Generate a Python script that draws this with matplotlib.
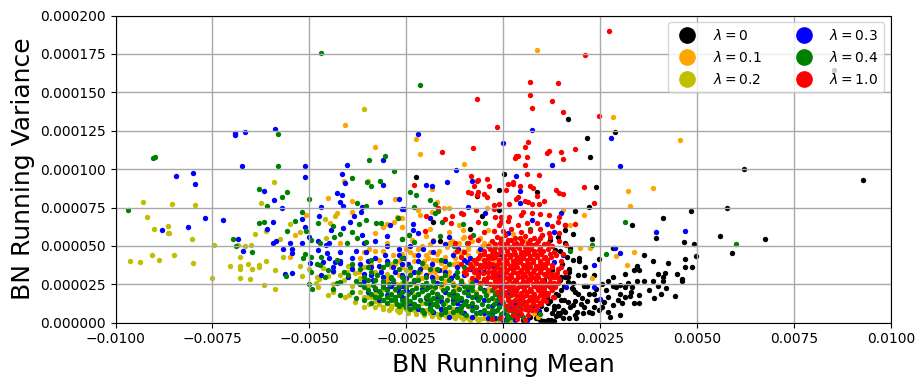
import numpy as np
import matplotlib
matplotlib.use("Agg")
import matplotlib.pyplot as plt
from matplotlib.lines import Line2D

# values: x in units of 1e-4, y in units of 1e-6
black_x = [16.8,21.7,28.9,22.5,-22.4,.3,-1,8.8,23.8,-6.7,22,18.6,48.3,41.1,33.3,-1.2,-5.4,-18,-8.7,15.8,15.8,17.9,39.3,46.5,49.1,23,-16.4,28.2,36.2,24.6,49.6,47,38.5,42.6,47,48.8,34.4,33.8,34.9,31.5,28.2,19.4,20.9,23.5,39.8,41.6,41.3,41.3,44.7,46,46.2,36.2,38.5,34.4,32.3,30.2,31.3,29.2,39.8,42.1,33.1,26.6,28.2,37.7,40.8,44.2,38.8,32.6,31.5,29.5,35.1,33.8,30.5,28.4,26.9,25.9,27.1,20.7,21.5,23.3,22.2,19.4,18.1,16.8,18.6,17.7,15,13,11.2,13.2,16.8,18.1,15.5,14.7,13.6,15.5,19,20.7,22.8,22,9.5,10.4,7.8,7.4,10.4,11.2,10.4,13.4,12.1,17.3,16.4,14.7,92.9,62,57.6,55.8,67.4,58.9,85.2,14.6,16,12.5,15.2,17,19.5,21,13.5,15.6,18,20.2,24,11.5,13,14.5,16,17.2,18.8,20,12.2,14.2,15.7,11,9,10.2,8.5,13,12,16.6,19.6,25.5,27.5,30,24.8,9.8,11.5]
black_y = [132.5,120.1,124,107.7,94.7,96.6,86.2,84.9,88.2,82.3,75.1,72.5,72.5,68,63.4,73.2,69.3,65.4,60.8,63.4,60.2,57.6,55,52.3,51,54.3,53.2,48.4,43.9,41.3,43.2,41.3,40,38.7,36.1,36.1,36.7,34.1,34.1,31.5,29.5,30.8,30.8,30.8,31.5,32.1,29.5,26.9,31.5,28.2,26.9,26.9,26.9,26.9,25.6,24.3,23,23,23.7,22.4,23,21,23.7,21,18.5,17.2,15.9,17.2,16.5,14.6,12.6,12.6,12.6,11.3,6.7,13.2,17,23.7,23.7,18.5,19,19,25.6,26.7,20.2,22.4,21,17,16.5,11,13.7,11.5,8.2,6,4.3,2.8,7.2,10.4,6,7.2,1.7,1.3,11.5,8.2,27.8,32.1,36.5,47.4,53.9,48.4,43,47,92.7,99.9,74.5,56.2,54.3,45.2,164.6,28,30,34,38,33,40,36,19,24,22,16,15,13,9,5,7,10,3,12,2,6,15,18,22,1.2,3,1,25,30,42,10,4,5,8,11,2,5,2]
black_more = [(3,3),(5,2),(7,4),(8.5,6),(6,1.5),(9.5,13),(11,9),(12.5,6),(14,11),(10,19),(12,14),(14,18),(13,25),(15,30),(17,35),(18,41),(16,52),(14,56),(18.5,14),(21.5,14),(23.5,10),(15,15),(17,3),(18.5,5),(20.5,6),(24,22),(25.5,25),(27,27),(30,19),(33,20),(35,18)]

orange_x = [-40.7,-33,-41,-45.3,-28,-39.1,-50.8,-42.8,-39.1,-26.8,-53.6,-55.1,-44.6,-31.1,-29.9,-28.3,-26.2,-33,-42,-36,-33,-37.1,-27.3,8.8,28.4,45.7,-22.4,-21.4,-10,-18.5,32.3,38.5,32.6,20.7,15.5,-17.2,-14.1,-15.2,-22.1,-21.4,-18.5,-26.2,-26.2,-18.8,-11.5,-10.5,-13.9,-20,17.1,19.9,22.5,33.8,29.2,31.8,22.8,-4.3,-4,-13.3,-18,-25,-23,-21,-19,-17,-15,-13,-11,-9,-7,-5,-3,-1,1,3,5,7,-24,-22,-20,-16,-14,-12,-10,-8,-6,-4,-2,0,2,4,-26,-28,-30,-24,-20,-16,-12,-8,-4,-1,3,-18,-14,-10,-6,6,8,10,-30,-32,-35,-27,-23]
orange_y = [128.6,114.2,92,81,80.4,79,70,71.2,71.9,68,56.9,42.6,64.7,62.1,64,65.4,62.1,58.2,51.7,45.8,46.5,33.2,69,177.4,133.8,118.8,119.4,109.7,103.2,86.9,85.6,87.5,75.8,70,73.2,78.4,74.5,74.5,73.2,70,71.9,68,62.1,60.8,63.4,60.2,58.9,56.2,63.4,48.4,48.4,45.8,43.2,37.4,28.9,74.5,60.4,53,40.8,48,44,50,46,41,43,38,45,49,41,52,47,44,40,36,33,29,35,29,36,34,30,37,33,28,35,30,37,28,31,24,43,38,52,25,24,23,24,21,20,15,12,54,52,56,55,20,18,15,30,41,36,40,28]
orange_more = [(-24.5,38),(-21.5,33),(-19.5,42),(-16.5,47),(-15,36),(-12.5,42),(-10.5,55),(-9,44),(-8,39),(-6.5,47),(-5,36),(-3.5,52),(-2,41),(-.5,33),(2,26),(-27,31),(-25,27),(-22.5,24),(-20.5,40),(-17.5,33),(-13.5,30),(-11,28),(-9.5,34),(-7,31),(-5.5,26),(-3,25),(-1.5,22),(.5,18),(2.5,14),(5,10),(-18,28),(-15.5,25),(-12.5,21),(-9.5,22),(-7,20),(-4.5,18),(-2,15),(-29,36),(-31,47),(-26,45),(-23.5,54),(-19,51),(-14.5,49),(-11.5,52),(-8,53),(-28,21),(-33,28),(-34,38),(8,6),(6.5,12),
 (-23,40),(-20,37),(-18,35),(-16,39),(-14,33),(-12,39),(-10.5,47),(-7.5,36),(-6,42),(-4,40),(-3,33),(-1,37),(.5,30),(-26,36),(-24,32),(-21,29),(-19,33),(-17,30),(-15,27),(-13,26),(-10.5,25),(-8.5,27),(-6,24),(-4,22),(-2,19),(-27.5,25),(-25.5,23),(-30,27),(-31.5,35),(-28.5,44),(-24,46),(-22,48),(-20,44),(-17,45),(-12.5,46),(-9,48),(-5.5,50),(-2.5,47),(-.5,55),(2.5,58),(5.5,53),(-37,42),(-39,37),(-34.5,48),(3,20),(4.5,16),(7,9),(9,4)]

olive_x = [-96.2,-93.6,-90.7,-88.9,-85,-79.9,-93,-85.3,-79.6,-92,-90,-86.4,-86.4,-86.1,-80.2,-74.7,-75,-59,-62.4,-61.3,-63.9,-57.5,-54.9,-52.3,-68.3,-66.7,-65,-68,-61.1,-70.4,-67.8,-68,-65.7,-64.7,-62.9,-62.9,-58.8,-68,-65.2,-61.6,-58.8,-56.7,-52.3,-52,-35.8,-34.8,-45.9,-43.5,-45.6,-48.4,-47.4,-46.4,-45.1,-47.7,-45.3,-43.8,-40.8,-39.9,-38.2,-36,-31.9,-31,-28.9,-27,-25.3,-40.4,-38.2,-35.2]
olive_y = [40,39.3,43.9,40.6,43.9,38.7,78.4,77.1,76.4,68.6,60.8,62.8,58.2,58.2,54.3,50.4,28.9,91.4,77.7,59.5,57.6,54.3,64,58.9,50.4,49.7,50.4,42.6,40,36.7,36.7,34.7,38,34.7,37.4,36,34.1,28.9,28.2,24.3,21.7,42.6,36.7,30.2,139,92,67.3,69.3,55,25.6,28.2,35.4,30.6,23,17.8,20.2,17,18,13.7,10,14.8,10.4,9.3,7.2,13.7,32.8,32.1,16.5]
olive_more = [(-34,17),(-33,14),(-32,12),(-30,13),(-29,11),(-28,12),(-26,10),(-25,9),(-24,10),(-23,8),(-22,9),(-21,7),(-20,8),(-19,6),(-18,7),(-17,5.5),(-16,6.5),(-15,5),(-14,6),(-13,4.5),(-12,5),(-11,3.5),(-10,4),(-9,3),(-8,3.5),(-7,3),(-6,2.5),(-5,3),(-4,2),(-3,2.5),(-2,1.5),(-1,2),(0,1.5),(1,2.5),(-37,20),(-35,24),(-33,19),(-31,22),(-29,17),(-27,19),(-25,15),(-23,18),(-21,13),(-19,15),(-17,11),(-15,13),(-13,9),(-11,8),(-41,28),(-39,24),(-37,29),(-44,25),(-30,32),(-26,26),(-22,30),(-18,22),(-14,18),
 (-36,17),(-34.5,12),(-33,10.5),(-31,9),(-29.5,8.5),(-27.5,8),(-26.5,7.5),(-24.5,6.5),(-22.5,5.5),(-20.5,5),(-18.5,4.5),(-16.5,4),(-14.5,3.5),(-12.5,3),(-10.5,2.5),(-8.5,2),(-6.5,1.8),(2,1.5),(3,2),(-42,31),(-48,30),(-50,35),(-44,33),(-40,37),(-36,36),(-33,33),(-29,38),(-25,34),(-21,36)]

blue_x = [-69.3,-69.3,-66.7,-58.8,-67.3,-51,-84.5,-79.9,-79.4,-51,-61.6,-59,-57,-77,-72.2,-87.9,-81.2,-68.3,-67,-61,-59.5,-52,-59.3,-58.5,-54.9,-52,-50.2,-51,-56.7,-54.4,-54.6,-56.2,-54.6,-46.9,-47.4,-40.2,-41.5,-40.7,-42.8,-41.7,-42,-41.2,-38.6,-39.4,-44.3,-41.2,-36.3,-36.6,-31.7,-31.1,-31.1,-27,-26,-29.1,-29.9,-36.3,-47.9,-45.6,-45.5,-47.9,-43.8,-49.8,-46.5,-43.3,-42,-22.1,7.3,0,27.7,30,12.7,-12.2,3.4,-8,-20,-18.3,-14.6,4.2,-25.7,-9,-4.6,-19,-23.4,-23.4,14.8,4.4,7.3,11.4,13,39.5,47,28.7,30.2,23.5,23.3,25,16.3,9.1,1.1,15.5,13.2,-13.9,-18,-21.9,-11.6,-20.6,-25.7,-9.4,-4.2,-6,-0.8]
blue_y = [123.3,122,124,126,101.9,101.9,95.3,97.3,90.1,94.7,85.6,79.7,74.5,68,66.7,60.2,62.1,54.3,46.5,60.8,65.4,67.3,51.7,53,51.7,51.7,56,62.1,47.8,47.8,45.2,31.5,32.1,75.1,69.3,102.5,96.6,90.8,84.3,83,78.4,75.8,69.3,65.4,60.2,61.5,75.1,71.9,78.4,105.8,89.5,80.4,73.8,63.4,56.2,56.9,53,50.4,45.2,47.1,33.7,38.7,39.5,39.5,38.7,122.7,125.3,116.8,120.1,101.9,102.5,99.2,95.3,92,89.5,88.8,91.4,85.6,73.8,75.1,71.2,68,64,60.2,71.2,77.7,66.7,64,58.9,58.9,59.5,48.4,45.2,37.4,23,15.2,23.5,7.4,58.2,43.9,39.3,55.6,53.4,58.2,47.8,47.8,41.9,39.5,38.2,36.5,45]
blue_more = [(-39,42),(-37,38),(-35.5,46),(-34,36),(-33,42),(-31.5,33),(-30,40),(-28.5,36),(-27,44),(-26,31),(-24.5,38),(-23,27),(-21.5,35),(-20,31),(-18.5,38),(-17,26),(-15,33),(-13.5,29),(-12,36),(-10,31),(-8.5,42),(-7,28),(-5,33),(-3,43),(-1,30),(-38,47),(-36,32),(-33.5,28),(-31,25),(-29,29),(-27,23),(-25,21),(-23,17),(-21,22),(-19,12),(-17,19),(-15,8),(-13,15),(-11,11),(-9,18),(-7,10),(-5,15),(-3,6),(-1,12),(1,4),(-28,15),(-26,17),(-24,13),(-22,9),(-20,16),(-18,7),(-16,14),(-14,4),(-12,9),(-10,6),(-8,4),(-6,7),(-4,3),(-2,3),(0,6),(2,9),(4,5),(6,2),(-30,18),(-33,22),(-35,20),(-37,25),(-40,30),(-44,36),(-47,31),(-42,46),(-45,52),(-30,50),(-27,48),(-24,50),(-22,44),(-18,46),(-15,51),(-13,44),(-10,41),(-6,48),(-32,15),(-29,24),
 (-35,40),(-32,37),(-30.5,44),(-28,33),(-26,38),(-25,29),(-23,33),(-22,40),(-20,26),(-18.5,30),(-16.5,34),(-15,40),(-12.5,31),(-11,26),(-8.5,35),(-6.5,33),(-4.5,26),(-2.5,36),(-.5,23),(1,20),(3,13),(-36,27),(-34,31),(-31,30),(-28.5,26),(-26,24),(-24,20),(-22,19),(-19.5,23),(-17,16),(-15,20),(-13,19),(-11,15),(-9,22),(-7,17),(-5,21),(-3,11),(-1,17),(-42,40),(-45,42),(-39,35),(-30,22),(-27,20),(-25,11),(-23,12),(-21,8),(-16,9),(-12,13),(-8,11),(-5,6),(0,2),(3,2),(-36,52),(-33,53)]

green_x = [-47,-58,-90.4,-89.9,-58,-96.7,-63,-57,-55.7,-61,-50.2,-62.9,-61.6,-53.8,-51.8,-55.7,-50.8,-69.6,-69,-64.7,-47.7,-34.5,-30.6,-28.3,-38.9,-35.2,-34.2,-31.7,-24,-37.6,-35.3,-35.3,-32.9,-31.4,-37.1,-43.8,-38.9,-42.2,-43.6,-49.5,-47.3,-40.2,-37.6,-35.5,-26,-24.3,-27.2,-51,-49.5,-51.7,-46.9,-48.1,-47.2,-45.3,-49.5,-49.2,-50,-55.9,-42,-42.9,-21.4,-22.4,-19,-22.9,-17.5,-16.7,-17.7,-15.7,-10.5,-4.8,-7.9,-16.4,-22.9,-24.4,-26,31.5,26.4,17.3,22.8,7,9.6,12.1,-12.8,-9.4,59.9]
green_y = [175.5,122.7,107,107.7,102,73.2,87,81.7,85,75.8,80.4,64.7,65.4,66,71.9,59.5,59.5,54.3,49.7,45.8,64.7,105.8,108.4,98.6,94,91.4,88.8,92,85,77.7,75.8,66.7,64.7,64.7,64,62.8,58.9,57.6,55.6,53.9,51.7,51.7,55,52.3,54.3,56.9,68,45,43,42,43,38.2,37.6,34.3,33,21.7,25,30.2,26.7,25.6,154.6,83,79.7,75.1,77.1,72.5,71.2,65.4,64,64.7,56.9,56.2,52.3,56.9,54.3,65.4,44.5,46.5,50.4,60.8,5.4,23.5,50,51.7,51]
green_more = [(-20.5,6),(-16,5.5),(-13,7),(-9.5,5),(-6,6.5),(-3,4.5),(-.5,5.5),(2,4),(-24,9),(-21,8),(-18.5,7.5),(-15,9),(-12,8),(-8,8.5),(-5,8),(-2,7.5),(.5,8),(2.5,7),(-27,11),(-25,10.5),(-22,11),(-19,10),(-17,11),(-14,10.5),(-11,10),(-9,11),(-7,10),(-4,11),(-1,10),(1,11),(-30,13),(-27.5,12.5),(-25,13),(-23,12),(-20,13),(-18,12.5),(-15.5,12),(-13,13),(-10,12),(-8,13),(-5.5,12.5),(-2.5,12),(0,13),(-31,15),(-29,14.5),(-26,15),(-24,14),(-21.5,15),(-19,14.5),(-17,14),(-14.5,15),(-12,14.5),(-9.5,14),(-6.5,15),(-4,14.5),(-1.5,15),(1.5,14),(-33,17),(-30,16.5),(-28,17),(-25,16),(-23,17),(-20,16.5),(-18,16),(-16,17),(-13,16.5),(-11,16),(-8,17),(-6,16.5),(-3,16),(-.5,17),(-34,19),(-31.5,18.5),(-29,19),(-27,18),(-24.5,19),(-22,18.5),(-19.5,18),(-17,19),(-14,18.5),(-12,18),(-9,19),(-7,18.5),(-4.5,18),(-2,19),(-35,21),(-32,20.5),(-30,21),(-26,20),(-23.5,21),(-21,20.5),(-18.5,20),(-15.5,21),(-13,20.5),(-10,20),(-8,21),(-5,20.5),(-36,23),(-33,22.5),(-31,23),(-28,22),(-25,23),(-22.5,22.5),(-20,22),(-17.5,23),(-14.5,22.5),(-11.5,22),(-9,23),(-6,22.5),(-37,25),(-33.5,24.5),(-29.5,25),(-27,24),(-24,25),(-21,24.5),(-19,24),(-16,25),(-13,24.5),(-10,24),(-38,27),(-35,28),(-31,27),(-28.5,28),(-25.5,27),(-22,28),(-18,27),(-14,28),(-11,27),(-40,31),(-36,30),(-32.5,31),(-29,30),(-24,31),(-20,30),(-15,31),(-41,33),(-37,35),(-34,33),(-27,35),(-22,33),(-17,35),(-12,33),(-39,38),(-34,41),(-30,38),(-26,42),(-21,39),(-16,41),(-43,41),(-46,30),(-44,22),(-42,18),(-39,20),(-38,16),(-36,15),(-34,13),
 (-31,36),(-28,40),(-24,36),(-19,35),(-14,38),(-10,36),(-35,36),(-33,28),(-26,30),(-23,28),(-20,26),(-16,29),(-12,30),(-8,26),(-5,28),(-2,24),(0,20),(2,18),(-3,8),(-1,3),(1,2),(3,6),(4,11),(5,4),(-7,6),(-11,7),(-15,7),(-19,9),(-23,10),(-26,12),(-28,15),(-32,17),(-4,6),(-1.5,8),(.5,11),(1,5),(-8,24),(-6,26),(-3,21),(-1,19)]

red_x = [27.4,21.2,6.8,14.2,6.8,-6.7,12.7,7.3,15.5,24.8,-1.5,6.5,5.7,-7.7,-15.9,11.7,11.4,15,18.4,15.5,3.2,3.7,3,6.2,5.5,6,9.3,-8.2,-4.1,-6.4,-6.7,-7.5,-3.6,-22.9,1.1,2.4,2.6,4.2,.6,7,7.8,13.5,14.5,15.5,20.7,-9.2,-8.2,-6.4,-4.9,-4.1,-6.7,3.9,3.4,5.7,6.5,8.8,10.6,23.5,7.5,9.1,1.6,-1.2,-2.3,-2.5,-16.7,-11,-10.3,-6.9,-13.1,-20,-14.9,-6.4,-2,-.7,1.6,1.1,-1.2,-.7,5.2,4.7,3.7,6,7.5,9.6,11.7,14.5,14.2,12.7,16,18.4,-13.6,-20.3,8.8,11.7,14.5,10.1,16.2,15,13.8,13.8,13,3.5]
red_y = [189.8,174.2,156.6,156,148,145.5,144.2,139.6,137,134.4,127.3,117.5,114.2,113.6,111,111.6,110.3,111,113,106.4,108.4,108.4,107,107.7,102.5,96.6,96,95.3,93.4,92.7,92,88.8,88.8,89.5,90.1,91.4,90.1,88.8,86.2,88.8,87.5,86.2,84.3,83.6,88.2,84.9,84.3,84.9,83.6,81.7,83,81.7,80.4,79,78.4,82.3,79,77.7,77.1,77.1,77.1,77.1,76.4,73.8,74.5,71.2,70.6,73.4,69.3,69.3,67.3,65.4,68.6,68.6,68.6,66,63.4,65.4,71.9,70,63.4,64.7,71.2,70.6,70,68.6,65.4,62.8,63.4,64,64.7,59.5,64.7,58.2,58.2,56.9,50.4,36.5,32.1,30,17,4]
red_more = [(-1.5,56),(.5,57),(3,55),(5.5,56.5),(8,55),(10,57),(-3,53),(-.8,52),(1.2,54),(3.3,52),(4.8,53.5),(6.5,52),(9,53),(11.5,52),(-4,50),(-2,49),(0,51),(1.8,49.5),(3.5,50),(5.5,49),(7.3,50.5),(9.5,49.5),(12.5,50),(-5,47),(-2.5,46.5),(-.8,48),(1,46.5),(2.8,47),(4.5,46),(6.2,47.5),(8,46.5),(10.3,47),(13,46),(-6,44),(-4,43.5),(-1.7,45),(.3,43.5),(2,44),(3.6,43),(5.5,44.5),(7,43.5),(8.8,44),(10.8,43),(13.5,44),(-7.5,41),(-5,40.5),(-3,42),(-1,40.5),(.8,41),(2.6,40),(4.3,41.5),(6,40.5),(7.8,41),(9.5,40),(11.3,41),(-8.5,38),(-6,37.5),(-3.8,39),(-1.8,37.5),(0,38),(1.7,37),(3.4,38.5),(5,37.5),(6.8,38),(8.5,37),(10.2,38),(12.5,37.5),(-9,35),(-7,34.5),(-4.8,36),(-2.5,34.5),(-.6,35),(1,34),(2.8,35.5),(4.5,34.5),(6.2,35),(8,34),(9.8,35),(11.5,34.5),(14,35),(-9.5,32),(-6.5,31.5),(-4,33),(-2,31.5),(-.2,32),(1.8,31),(3.5,32.5),(5.2,31.5),(7,32),(8.8,31),(10.5,32),(12.6,31.5),(-8,29),(-5,28.5),(-2.8,30),(-.8,28.5),(1.2,29),(3,28),(4.8,29.5),(6.5,28.5),(8.2,29),(10,28),(12,29),(14.3,28.5),(-6,26),(-3.5,25.5),(-1.2,27),(.6,25.5),(2.4,26),(4.2,25),(6,26.5),(7.6,25.5),(9.4,26),(11,25),(13,26),(-2.5,23),(-.3,22.5),(1.7,24),(3.6,22.5),(5.3,23),(7,22),(8.8,23.5),(10.6,22.5),(12.4,23),(-1.5,20),(.5,19.5),(2.5,21),(4.5,19.5),(6.2,20),(8,19),(9.7,20.5),(11.5,19.5),(-.8,17),(1.2,16.5),(3.2,18),(5,16.5),(6.8,17),(8.6,16),(10.4,17.5),(12.8,16.5),(-.2,14),(2,13.5),(4,15),(5.8,13.5),(7.6,14),(9.4,13),(11,14),(.8,11),(3,10.5),(5,12),(6.8,10.5),(8.8,11),(1.5,8),(3.5,7.5),(5.5,9),(7.5,8),(2.5,5),(4.5,5.5),(6.3,5),(-3,2.5),(3.5,2.5),(5.5,2),(-.5,3),(-10,46),(-9,52),(-11,43),(-12,47),(-8.5,56),(-6.5,54),(-5,59),(-2.5,60),(0,60),(2,61),(4.5,59),(7,60),(9.5,61),(12,56),(14.5,53),(15.5,45),(14.8,40),(16,33),(-11,38),(-10,33),(-12.5,52),
 (-.5,54.5),(2,54),(4.2,55),(7,54),(9.5,55),(-2,51),(1,52),(2.7,51),(4.5,51),(6.5,49.5),(8.4,51),(10.5,51),(-3.5,48),(.3,49),(2.5,48),(4,48.5),(5.6,47),(7.2,48),(9.2,47.5),(11.5,48),(-5,45),(-3,45),(-.7,46),(1.2,45),(3,45),(4.6,44.5),(6.3,45.5),(8,45),(9.8,44.5),(12,45),(-6.5,42),(-4,41.8),(-2,42.5),(0,42),(1.7,42.5),(3.4,41.5),(5.2,42),(7,42),(8.7,42.5),(10.4,42),(12.3,43),(-7,39),(-5,38.5),(-3,38.5),(-1,39),(.9,39),(2.5,38.5),(4.2,39.5),(6,38.5),(7.7,39.5),(9.4,38.5),(11.3,39),(-8,36),(-6,35.5),(-3.6,36),(-1.5,36),(.2,36),(1.9,35.5),(3.6,36.5),(5.3,36),(7,36.5),(8.9,35.5),(10.7,36.5),(12.7,36),(-7.5,33),(-5.2,32.5),(-3,33),(-1,33),(.8,33),(2.6,33),(4.4,33),(6,33.5),(7.8,33),(9.6,33),(11.5,32.5),(-6.5,30),(-4,30),(-1.8,29.5),(.2,30),(2,30),(3.9,30),(5.6,30.5),(7.4,30),(9,30),(11,30.5),(13,30),(-4.5,27),(-2.2,27),(-.2,27),(1.5,27.5),(3.3,27),(5,27),(6.8,27.5),(8.5,27),(10.2,27),(12,26.5),(14,26),(-1.5,24.5),(.7,24),(2.6,24.5),(4.5,24),(6.2,24.5),(7.9,24),(9.7,24),(11.6,24.5),(13.4,23),(-.6,21),(1.4,21.5),(3.4,20.5),(5.4,21),(7.1,20.5),(8.9,21),(10.6,20.5),(12.5,21),(.2,18),(2.2,18.5),(4.1,17.5),(5.9,18),(7.7,17.5),(9.5,18),(11.4,18),(1.1,15),(3,15),(4.9,14.5),(6.7,15),(8.5,14.5),(10.3,15),(2,12),(4,12),(5.9,11.5),(7.7,12),(9.7,12),(2.5,9),(4.5,9),(6.4,8),(8.5,8)]

xticks = [-0.01,-0.0075,-0.005,-0.0025,0,0.0025,0.005,0.0075,0.01]
yticks = [0,0.000025,0.00005,0.000075,0.0001,0.000125,0.00015,0.000175,0.0002]

def combine(xs, ys, more=()):
    n = min(len(xs), len(ys))
    m = list(more)
    X = list(xs[:n]) + [p[0] for p in m]
    Y = list(ys[:n]) + [p[1] for p in m]
    return np.array(X)*1e-4, np.array(Y)*1e-6

series = [("$\\lambda = 0$","k",*combine(black_x,black_y,black_more)),
          ("$\\lambda = 0.1$","orange",*combine(orange_x,orange_y,orange_more)),
          ("$\\lambda = 0.2$","y",*combine(olive_x,olive_y,olive_more)),
          ("$\\lambda = 0.3$","b",*combine(blue_x,blue_y,blue_more)),
          ("$\\lambda = 0.4$","g",*combine(green_x,green_y,green_more)),
          ("$\\lambda = 1.0$","r",*combine(red_x,red_y,red_more))]

fig = plt.figure(figsize=(9.24,3.86),dpi=100)
ax = fig.add_axes([115.5/924,1-322.7/386,775.5/924,307.2/386])
handles=[]
for lab,c,xs,ys in series:
    ax.scatter(xs,ys,s=15,c=c,linewidths=0)
    handles.append(Line2D([],[],ls='',marker='o',color=c,markersize=11,label=lab))
ax.set_xlim(-0.01,0.01); ax.set_ylim(0,0.0002)
ax.set_xticks(xticks); ax.set_yticks(yticks)
ax.set_xticklabels(["\u22120.0100","\u22120.0075","\u22120.0050","\u22120.0025","0.0000","0.0025","0.0050","0.0075","0.0100"])
ax.set_yticklabels(["%.6f"%v for v in yticks])
ax.grid(True,color='#a9a9a9',linewidth=1)
ax.set_xlabel("BN Running Mean",fontsize=18,labelpad=4.5)
ax.set_ylabel("BN Running Variance",fontsize=18,labelpad=3.5)
ax.legend(handles=handles,ncol=2,loc='upper right',fontsize=10,labelspacing=0.5,columnspacing=2.1,handletextpad=0.85,handlelength=1.95)
fig.savefig("out.png",dpi=100)
